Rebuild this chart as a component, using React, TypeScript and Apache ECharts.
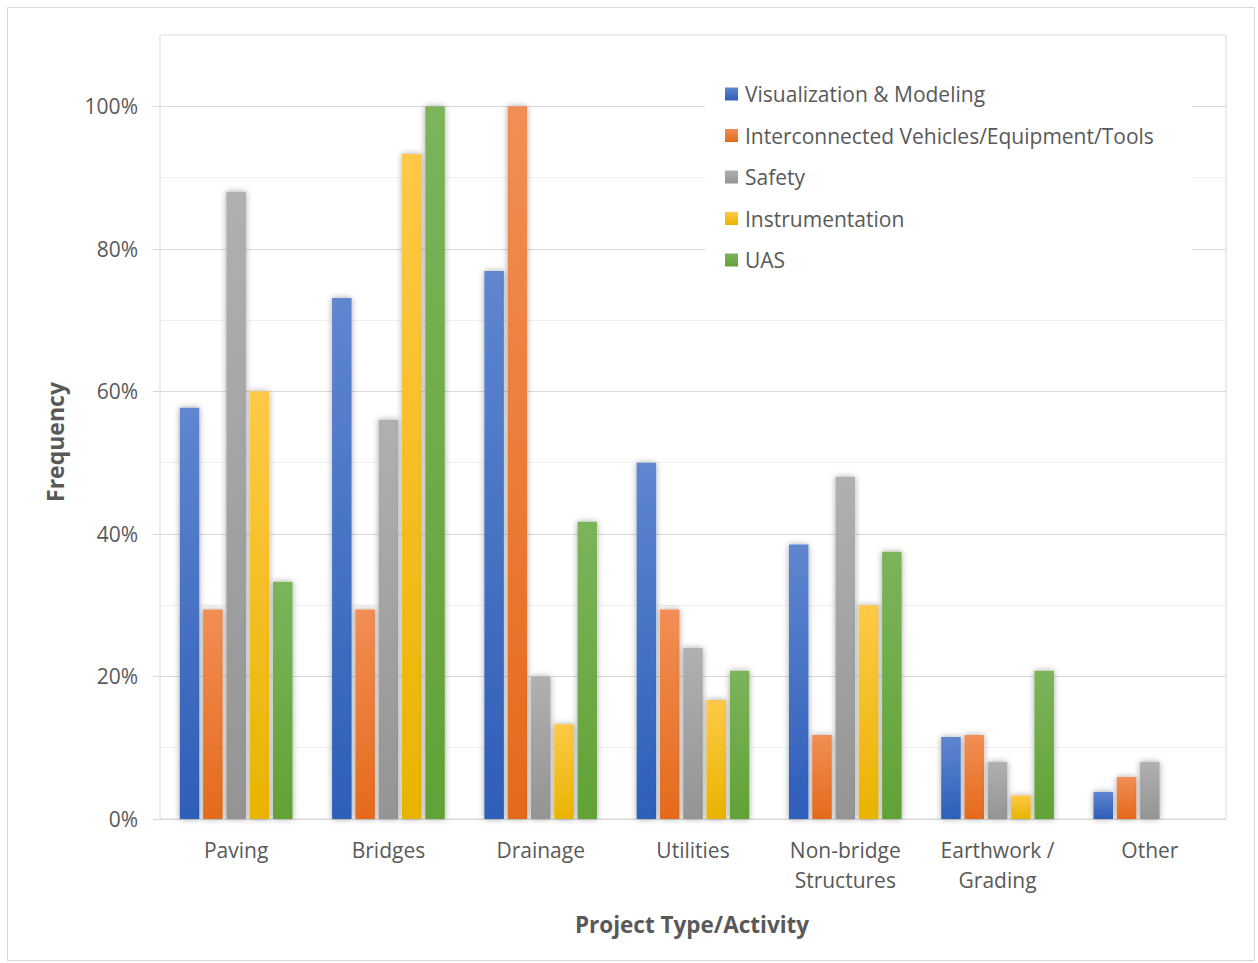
import React, { useEffect, useRef } from "react";
import * as echarts from "echarts";

// Project types on the x axis
const categories = [
  "Paving",
  "Bridges",
  "Drainage",
  "Utilities",
  "Non-bridge\nStructures",
  "Earthwork /\nGrading",
  "Other",
];

// Share of respondents (%) for each technology
const visualization = [57.7, 73.1, 76.9, 50.0, 38.5, 11.5, 3.8];
const interconnected = [29.4, 29.4, 100, 29.4, 11.8, 11.8, 5.9];
const safety = [88.0, 56.0, 20.0, 24.0, 48.0, 8.0, 8.0];
const instrumentation = [60.0, 93.3, 13.3, 16.7, 30.0, 3.3, 0];
const uas = [33.3, 100, 41.7, 20.8, 37.5, 20.8, 0];

const seriesNames = [
  "Visualization & Modeling",
  "Interconnected Vehicles/Equipment/Tools",
  "Safety",
  "Instrumentation",
  "UAS",
];

const yTicks = [0, 20, 40, 60, 80, 100];

// [top, bottom] gradient colours per series
const palette: [string, string][] = [
  ["#5F86CF", "#2E5EB9"],
  ["#F28E55", "#E46A1B"],
  ["#B0B0B0", "#949494"],
  ["#FFC947", "#E8B400"],
  ["#7BB45A", "#61A236"],
];

const FONT = "'Open Sans', sans-serif";
const TEXT = "#595959";

export default function App() {
  const ref = useRef<HTMLDivElement>(null);

  useEffect(() => {
    if (!ref.current) return;
    const chart = echarts.init(ref.current, undefined, { renderer: "svg" });
    const values = [visualization, interconnected, safety, instrumentation, uas];

    chart.setOption({
      animation: false,
      backgroundColor: "#ffffff",
      textStyle: { fontFamily: FONT },
      grid: {
        left: 160,
        top: 35,
        right: 32,
        bottom: 144,
        show: true,
        borderColor: "#D9D9D9",
        borderWidth: 1,
        backgroundColor: "transparent",
      },
      legend: {
        orient: "vertical",
        left: 705,
        top: 63,
        padding: [20, 38, 20, 20],
        backgroundColor: "#ffffff",
        itemWidth: 13,
        itemHeight: 13,
        itemGap: 19.5,
        icon: "rect",
        textStyle: {
          color: TEXT,
          fontSize: 21,
          lineHeight: 22,
          fontFamily: FONT,
          padding: [0, 0, 0, 2],
        },
        data: seriesNames,
      },
      xAxis: {
        type: "category",
        data: categories,
        axisLine: { show: true, lineStyle: { color: "#D9D9D9", width: 1 } },
        axisTick: { show: false },
        axisLabel: {
          color: TEXT,
          fontSize: 21,
          lineHeight: 30,
          margin: 16,
          fontFamily: FONT,
          interval: 0,
        },
      },
      yAxis: [
        {
          type: "value",
          min: 0,
          max: 110,
          interval: 10,
          axisLine: { show: false },
          axisTick: { show: false },
          axisLabel: { show: false },
          splitLine: {
            show: true,
            lineStyle: { color: ["#D9D9D9", "#F0F0F0"], width: 1 },
          },
        },
        {
          type: "value",
          min: 0,
          max: 110,
          interval: 20,
          position: "left",
          axisLine: { show: false },
          axisTick: {
            show: true,
            length: 7,
            lineStyle: { color: "#D9D9D9" },
            customValues: yTicks,
          },
          axisLabel: {
            color: TEXT,
            fontSize: 21,
            margin: 22,
            fontFamily: FONT,
            customValues: yTicks,
            formatter: (v: number) => (v > 100 ? "" : `${v}%`),
          },
          splitLine: { show: false },
        },
      ],
      series: values.map((data, i) => ({
        name: seriesNames[i],
        type: "bar",
        yAxisIndex: 0,
        data,
        barWidth: 19.5,
        barGap: "19.5%",
        itemStyle: {
          color: new echarts.graphic.LinearGradient(0, 0, 0, 1, [
            { offset: 0, color: palette[i][0] },
            { offset: 1, color: palette[i][1] },
          ]),
          shadowBlur: 6,
          shadowColor: "rgba(0,0,0,0.35)",
          shadowOffsetX: 0,
          shadowOffsetY: 0,
        },
      })),
      graphic: [
        {
          type: "rect",
          silent: true,
          shape: { x: 7.5, y: 7.5, width: 1247, height: 953 },
          style: { fill: "none", stroke: "#D9D9D9", lineWidth: 1 },
          z: 100,
        },
        {
          type: "text",
          x: 55,
          y: 442,
          rotation: Math.PI / 2,
          style: {
            text: "Frequency",
            fill: TEXT,
            font: `bold 23px ${FONT}`,
            align: "center",
            verticalAlign: "middle",
          },
        },
        {
          type: "text",
          x: 692,
          y: 924,
          style: {
            text: "Project Type/Activity",
            fill: TEXT,
            font: `bold 22.5px ${FONT}`,
            align: "center",
            verticalAlign: "middle",
          },
        },
      ],
    });

    return () => chart.dispose();
  }, []);

  return (
    <div
      ref={ref}
      style={{ position: "fixed", left: 0, top: 0, width: 1258, height: 963 }}
    />
  );
}
